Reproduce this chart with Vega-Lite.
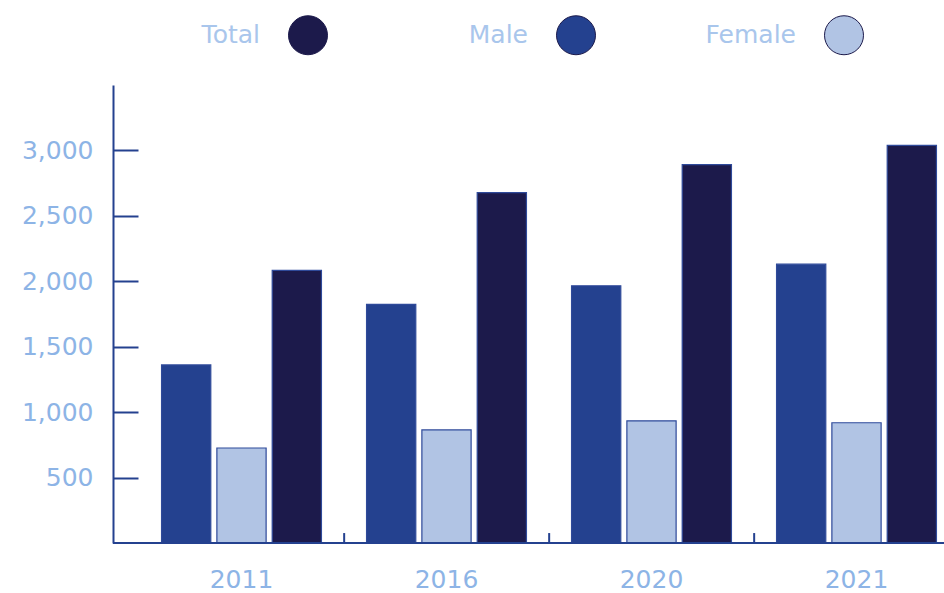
{
  "$schema": "https://vega.github.io/schema/vega-lite/v6.json",
  "width": 831,
  "height": 458,
  "autosize": {"type": "none"},
  "padding": {"left": 113, "top": 85, "right": 0, "bottom": 50},
  "background": "white",
  "config": {"font": "DejaVu Sans", "view": {"stroke": null}},
  "data": {
    "values": [
      {"year": "2011", "category": "Male", "value": 1361},
      {"year": "2011", "category": "Female", "value": 726},
      {"year": "2011", "category": "Total", "value": 2083},
      {"year": "2016", "category": "Male", "value": 1824},
      {"year": "2016", "category": "Female", "value": 864},
      {"year": "2016", "category": "Total", "value": 2678},
      {"year": "2020", "category": "Male", "value": 1966},
      {"year": "2020", "category": "Female", "value": 934},
      {"year": "2020", "category": "Total", "value": 2891},
      {"year": "2021", "category": "Male", "value": 2131},
      {"year": "2021", "category": "Female", "value": 919},
      {"year": "2021", "category": "Total", "value": 3038}
    ]
  },
  "layer": [
    {
      "mark": {"type": "bar", "stroke": "#2f4a9a", "strokeWidth": 1.2},
      "encoding": {
        "x": {
          "field": "year",
          "type": "nominal",
          "scale": {"range": [26, 846], "paddingInner": 0.22, "paddingOuter": 0.11},
          "axis": {
            "title": null,
            "domain": false,
            "ticks": false,
            "labelAngle": 0,
            "labelFontSize": 25,
            "labelColor": "#8db4e6",
            "labelPadding": 24,
            "labelBaseline": "top"
          }
        },
        "xOffset": {
          "field": "category",
          "type": "nominal",
          "sort": ["Male", "Female", "Total"],
          "scale": {"paddingInner": 0.11, "paddingOuter": 0}
        },
        "y": {
          "field": "value",
          "type": "quantitative",
          "scale": {"domain": [0, 3500], "nice": false},
          "axis": {
            "title": null,
            "grid": false,
            "values": [500, 1000, 1500, 2000, 2500, 3000],
            "format": ",d",
            "domainColor": "#24418f",
            "domainWidth": 2,
            "tickColor": "#24418f",
            "tickWidth": 2,
            "tickSize": -25,
            "labelFontSize": 25,
            "labelColor": "#8db4e6",
            "labelPadding": 45
          }
        },
        "color": {
          "field": "category",
          "type": "nominal",
          "scale": {"domain": ["Total", "Male", "Female"], "range": ["#1c1a4b", "#24418f", "#b1c4e4"]},
          "legend": {
            "title": null,
            "orient": "none",
            "legendX": 175,
            "legendY": -70,
            "direction": "horizontal",
            "symbolType": "circle",
            "symbolSize": 1520,
            "symbolStrokeColor": "#1c1a4b",
            "symbolStrokeWidth": 1,
            "symbolOpacity": 1,
            "labelAlign": "right",
            "labelOffset": -68,
            "labelFontSize": 25,
            "labelColor": "#a9c6ec",
            "gridAlign": "all",
            "columnPadding": 107,
            "padding": 0
          }
        }
      }
    },
    {
      "transform": [{"filter": "datum.category === 'Total' && datum.year !== '2011'"}],
      "mark": {"type": "rule", "color": "#24418f", "strokeWidth": 2},
      "encoding": {
        "x": {"field": "year", "type": "nominal", "bandPosition": -0.14},
        "y": {"datum": 0},
        "y2": {"datum": 76}
      }
    },
    {
      "mark": {"type": "rule", "color": "#24418f", "strokeWidth": 2},
      "encoding": {"y": {"datum": 0}}
    }
  ]
}
